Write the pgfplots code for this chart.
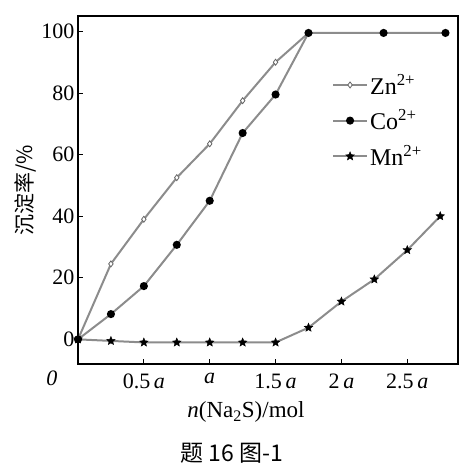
\documentclass[border=0pt]{standalone}
\usepackage{fontspec}
\setmainfont{Liberation Serif}
\newfontfamily\cjk{Noto Sans CJK SC}
\usepackage{pgfplots}
\pgfplotsset{compat=1.18}
\pgfdeclareplotmark{fstar}{%
  \pgfpathmoveto{\pgfpointpolar{90}{\pgfplotmarksize}}%
  \pgfpathlineto{\pgfpointpolar{126}{0.45\pgfplotmarksize}}%
  \pgfpathlineto{\pgfpointpolar{162}{\pgfplotmarksize}}%
  \pgfpathlineto{\pgfpointpolar{198}{0.45\pgfplotmarksize}}%
  \pgfpathlineto{\pgfpointpolar{234}{\pgfplotmarksize}}%
  \pgfpathlineto{\pgfpointpolar{270}{0.45\pgfplotmarksize}}%
  \pgfpathlineto{\pgfpointpolar{306}{\pgfplotmarksize}}%
  \pgfpathlineto{\pgfpointpolar{342}{0.45\pgfplotmarksize}}%
  \pgfpathlineto{\pgfpointpolar{18}{\pgfplotmarksize}}%
  \pgfpathlineto{\pgfpointpolar{54}{0.45\pgfplotmarksize}}%
  \pgfpathclose
  \pgfusepathqfillstroke}
\begin{document}
\begin{tikzpicture}
\begin{axis}[
  scale only axis, width=380pt, height=348pt,
  xmin=0, xmax=2.885, ymin=-8, ymax=105,
  axis line style={black, line width=1.2pt},
  xtick={0.5,1,1.5,2,2.5},
  xticklabels={0.5\,\textit{a}, \textit{a}, 1.5\,\textit{a}, 2\,\textit{a}, 2.5\,\textit{a}},
  extra x ticks={0}, extra x tick labels={\textit{0}},
  extra x tick style={major tick length=0pt, xticklabel style={xshift=-26pt, yshift=3pt}},
  xticklabel style={yshift=-6pt},
  ytick={0,20,40,60,80,100},
  tick align=inside, xtick pos=bottom, ytick pos=left,
  major tick length=5pt,
  tick style={black, line width=0.8pt},
  ticklabel style={font=\fontsize{22}{24}\selectfont},
  /pgf/number format/assume math mode=true,
  xlabel={\textit{n}(Na\textsubscript{2}S)/mol},
  xlabel style={font=\fontsize{23}{26}\selectfont, xshift=-22pt, yshift=-6pt},
  ylabel={\cjk 沉淀率/\%},
  ylabel style={font=\fontsize{21}{24}\selectfont, yshift=-2pt},
  legend style={at={(0.66,0.845)}, anchor=north west, draw=none, fill=none,
    font=\fontsize{24}{26}\selectfont, row sep=10pt},
  legend cell align=left,
  legend image code/.code={\draw[mark repeat=2, mark phase=2, #1] plot coordinates {(0cm,0cm) (0.6cm,0cm) (1.2cm,0cm)};},
]
\addplot[color=black!45, line width=2pt, mark=diamond*, mark size=3pt,
  mark options={fill=white, draw=black!60, line width=0.8pt}]
  coordinates {(0,0) (0.25,24.5) (0.5,39) (0.75,52.5) (1.0,63.5) (1.25,77.5) (1.5,90) (1.75,99.5)};
\addlegendentry{Zn\textsuperscript{2+}}
\addplot[color=black!45, line width=2pt, mark=*, mark size=3pt,
  mark options={fill=black, draw=black}]
  coordinates {(0,0) (0.25,8.2) (0.5,17.3) (0.75,30.7) (1.0,45) (1.25,67) (1.5,79.5) (1.75,99.5) (2.32,99.5) (2.79,99.5)};
\addlegendentry{Co\textsuperscript{2+}}
\addplot[color=black!45, line width=2pt, mark=fstar, mark size=4.5pt,
  mark options={fill=black, draw=black, line width=0.4pt}]
  coordinates {(0,0) (0.25,-0.5) (0.5,-1) (0.75,-1) (1.0,-1) (1.25,-1) (1.5,-1) (1.75,3.8) (2.0,12.3) (2.25,19.5) (2.5,29) (2.75,40)};
\addlegendentry{Mn\textsuperscript{2+}}
\end{axis}
\node[font=\cjk\fontsize{23}{26}\selectfont] at ([xshift=-36pt, yshift=-89pt]current axis.south) {题 16 图-1};
\pgfresetboundingbox
\path ([xshift=-78pt, yshift=-109pt]current axis.south west) ([xshift=12pt, yshift=16pt]current axis.north east);
\end{tikzpicture}
\end{document}
